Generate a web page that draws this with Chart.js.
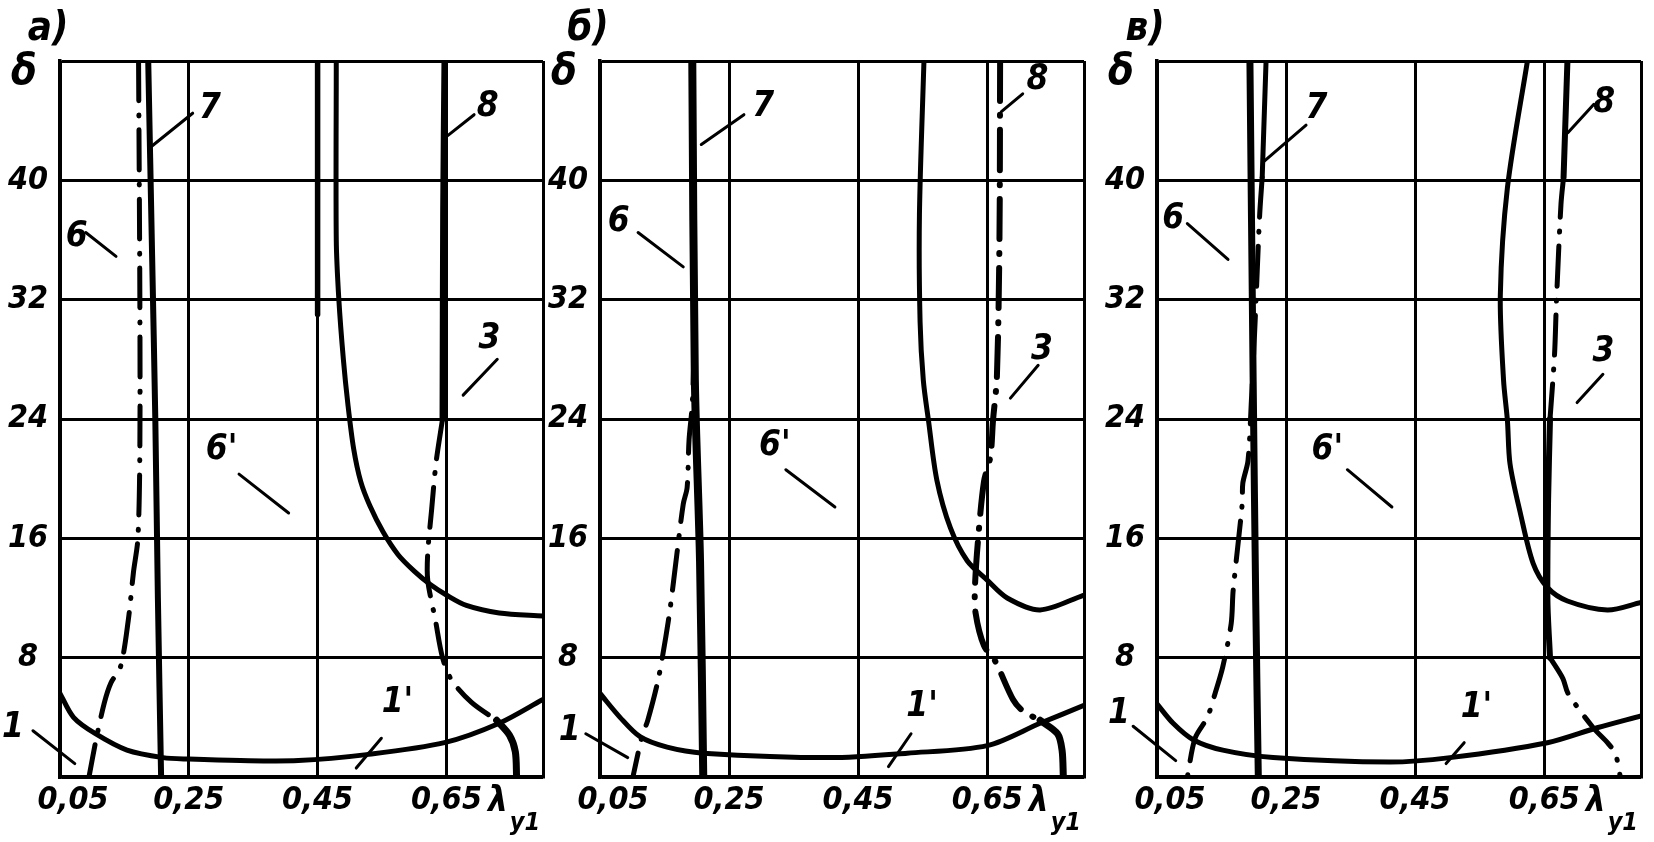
<!DOCTYPE html>
<html>
<head>
<meta charset="utf-8">
<script src="https://cdn.jsdelivr.net/npm/chart.js@4.4.1/dist/chart.umd.min.js"></script>
<style>
    html, body { margin: 0; padding: 0; background: #fff; }
    body { width: 1654px; height: 842px; position: relative; overflow: hidden; }
    canvas { position: absolute; top: 0; }
</style>
</head>
<body>
<canvas id="ca"></canvas>
<canvas id="cb"></canvas>
<canvas id="cc"></canvas>
<script>
// axes
var xTicks = [0.05, 0.25, 0.45, 0.65];
var xLabels = ['0,05', '0,25', '0,45', '0,65'];
var xGrid = [0.05, 0.25, 0.45, 0.65, 0.8];
var yTicks = [0, 8, 16, 24, 32, 40, 48];
var titles = ['а)', 'б)', 'в)'];

// panel а: curves as [lambda, delta]
var a1p = [[0.05, 5.6], [0.071, 4.0], [0.105, 2.9], [0.154, 1.8], [0.21, 1.3], [0.25, 1.2], [0.33, 1.1], [0.42, 1.1], [0.526, 1.5], [0.647, 2.3], [0.732, 3.6], [0.80, 5.2]];
var a3 = [[0.479, 48], [0.479, 36], [0.483, 32], [0.490, 28], [0.497, 25], [0.506, 22], [0.517, 19.8], [0.531, 18.2], [0.552, 16.4], [0.575, 14.9], [0.600, 13.8], [0.625, 12.9], [0.650, 12.2], [0.681, 11.5], [0.732, 11.0], [0.80, 10.8]];
var a6 = [[0.172, 48], [0.174, 32], [0.174, 22], [0.171, 16], [0.164, 13.7], [0.156, 10.5], [0.144, 7.4], [0.129, 6.3], [0.119, 5.0], [0.106, 2.5], [0.095, 0]];
var a7 = [[0.187, 48], [0.193, 35], [0.198, 24], [0.202, 12], [0.207, 0]];
var a8top = [[0.647, 48], [0.645, 38], [0.644, 24]];
var a8 = [[0.644, 24], [0.634, 21.1], [0.627, 17.9], [0.621, 15], [0.621, 13.2], [0.633, 10.5], [0.644, 8], [0.658, 6.5], [0.689, 5], [0.728, 3.8]];
var a8end = [[0.728, 3.8], [0.748, 2.8], [0.757, 1.7], [0.759, 0]];
var a45 = [[0.45, 48], [0.45, 31]];

// panel б
var b1p = [[0.05, 5.6], [0.081, 4.0], [0.112, 2.7], [0.154, 2.0], [0.21, 1.6], [0.407, 1.3], [0.526, 1.6], [0.65, 2.1], [0.732, 3.6], [0.80, 4.8]];
var b3 = [[0.552, 48], [0.545, 37.7], [0.546, 30.5], [0.551, 26.6], [0.559, 23.9], [0.572, 19.9], [0.593, 16.7], [0.619, 14.5], [0.65, 13.2], [0.681, 12.0], [0.732, 11.2], [0.80, 12.2]];
var b6 = [[0.196, 29], [0.193, 25], [0.188, 22.6], [0.185, 19.4], [0.179, 18.3], [0.169, 14.9], [0.159, 11.4], [0.152, 9.4], [0.140, 6.5], [0.124, 3.8], [0.115, 2.7], [0.101, 0]];
var b7 = [[0.193, 48], [0.197, 26.6], [0.205, 14.5], [0.210, 0]];
var b8 = [[0.670, 48], [0.669, 36], [0.665, 26.8], [0.659, 23.9], [0.655, 21.5], [0.645, 19.8], [0.636, 16], [0.631, 12.7], [0.632, 11], [0.645, 8.8], [0.662, 7.8], [0.690, 5.2], [0.706, 4.4], [0.732, 3.8]];
var b8end = [[0.732, 3.8], [0.759, 2.9], [0.766, 1.8], [0.768, 0]];

// panel в
var c1p = [[0.05, 4.9], [0.075, 3.6], [0.106, 2.5], [0.152, 1.8], [0.23, 1.3], [0.411, 1.0], [0.504, 1.3], [0.655, 2.3], [0.732, 3.3], [0.80, 4.1]];
var c3 = [[0.624, 48], [0.593, 39.5], [0.582, 32.3], [0.587, 26.6], [0.593, 23.9], [0.597, 21.0], [0.613, 17.7], [0.633, 14.3], [0.655, 12.7], [0.686, 11.8], [0.748, 11.2], [0.80, 11.7]];
var c6 = [[0.213, 40.2], [0.209, 37.6], [0.202, 30.5], [0.196, 25], [0.191, 21.2], [0.183, 19.7], [0.182, 18.3], [0.168, 12.5], [0.165, 10.3], [0.152, 7.4], [0.140, 5.6], [0.128, 4.0], [0.109, 2.6], [0.097, 0]];
var c7 = [[0.194, 48], [0.199, 26.6], [0.203, 11.8], [0.207, 0]];
var c7top = [[0.219, 48], [0.213, 40.2]];
var c8top = [[0.686, 48], [0.680, 40.2]];
var c8 = [[0.680, 40.2], [0.676, 38.4], [0.669, 31.9], [0.666, 28.3], [0.659, 24]];
var c8mid = [[0.659, 24], [0.656, 18.5], [0.655, 11.8], [0.659, 8]];
var c8low = [[0.659, 8], [0.679, 6.6], [0.687, 5.6], [0.726, 3.3], [0.748, 2.3], [0.760, 1.6], [0.768, 0]];

// curve labels: text, x, y, leader from (x1, y1) to (x2, y2)
var aLabels = [
    ['7', 0.283, 44.8, 0.190, 42.2, 0.256, 44.5],
    ['8', 0.714, 44.9, 0.652, 43.0, 0.693, 44.4],
    ['6', 0.076, 36.2, 0.090, 36.5, 0.137, 34.9],
    ['3', 0.717, 29.4, 0.676, 25.6, 0.729, 28.0],
    ["6'", 0.301, 21.9, 0.328, 20.3, 0.405, 17.7],
    ["1'", 0.574, 5.0, 0.510, 0.6, 0.549, 2.6],
    ['1', -0.023, 3.3, 0.008, 3.1, 0.073, 0.9]
];
var bLabels = [
    ['7', 0.303, 44.9, 0.207, 42.4, 0.273, 44.4],
    ['8', 0.728, 46.7, 0.672, 44.6, 0.705, 45.8],
    ['6', 0.079, 37.2, 0.109, 36.5, 0.179, 34.2],
    ['3', 0.735, 28.6, 0.686, 25.4, 0.729, 27.6],
    ["6'", 0.321, 22.2, 0.338, 20.6, 0.414, 18.1],
    ["1'", 0.549, 4.7, 0.497, 0.7, 0.532, 2.9],
    ['1', 0.003, 3.1, 0.028, 2.9, 0.093, 1.3]
];
var cLabels = [
    ['7', 0.297, 44.8, 0.214, 41.2, 0.281, 43.7],
    ['8', 0.743, 45.2, 0.687, 43.2, 0.727, 45.1],
    ['6', 0.075, 37.4, 0.097, 37.1, 0.160, 34.7],
    ['3', 0.742, 28.5, 0.701, 25.1, 0.741, 27.0],
    ["6'", 0.314, 21.9, 0.345, 20.6, 0.414, 18.1],
    ["1'", 0.545, 4.6, 0.498, 0.9, 0.526, 2.3],
    ['1', -0.009, 4.2, 0.013, 3.4, 0.079, 1.1]
];

var FONT = '"DejaVu Sans Condensed", "DejaVu Sans", sans-serif';
var LAMBDA_AT = 0.73;
var DASHDOT = { borderDash: [40, 14, 1, 14] };

function line(pts, extra) {
    return Object.assign({
        data: pts.map(function (p) { return { x: p[0], y: p[1] }; }),
        showLine: true,
        pointRadius: 0,
        borderColor: '#000',
        borderWidth: 5,
        tension: 0.3,
        fill: false,
        borderCapStyle: 'round',
        borderJoinStyle: 'round'
    }, extra || {});
}

var sketchText = {
    id: 'sketchText',
    afterDraw: function (chart, args, o) {
        var ctx = chart.ctx, sx = chart.scales.x, sy = chart.scales.y, a = chart.chartArea;
        var px = function (v) { return sx.getPixelForValue(v); };
        var py = function (v) { return sy.getPixelForValue(v); };
        ctx.save();
        ctx.fillStyle = '#000';
        ctx.strokeStyle = '#000';
        ctx.lineCap = 'round';
        ctx.textAlign = 'center';
        ctx.textBaseline = 'middle';

        ctx.font = 'italic bold 32px ' + FONT;
        xTicks.forEach(function (v, i) {
            ctx.fillText(xLabels[i], px(v) + (i === 0 ? 13 : 0), a.bottom + 24);
        });
        ctx.font = 'italic bold 35px ' + FONT;
        ctx.fillText('λ', px(LAMBDA_AT), a.bottom + 25);
        ctx.font = 'italic bold 25px ' + FONT;
        ctx.fillText('y1', px(LAMBDA_AT) + 27, a.bottom + 46);

        ctx.font = 'italic bold 42px ' + FONT;
        ctx.fillText('δ', a.left - 36, a.top + 12);
        ctx.font = 'italic bold 40px ' + FONT;
        ctx.fillText(o.title, a.left - 12, 30);

        ctx.lineWidth = 3;
        ctx.font = 'italic bold 35px ' + FONT;
        o.labels.forEach(function (l) {
            ctx.fillText(l[0], px(l[1]), py(l[2]));
            ctx.beginPath();
            ctx.moveTo(px(l[3]), py(l[4]));
            ctx.lineTo(px(l[5]), py(l[6]));
            ctx.stroke();
        });
        ctx.restore();
    }
};

function makePanel(id, plotLeft, plotRight, title, labels, datasets) {
    var canvas = document.getElementById(id);
    var padRight = 12;
    canvas.width = plotRight - plotLeft + 60 + padRight;
    canvas.height = 842;
    canvas.style.left = (plotLeft - 60) + 'px';

    var gridLine = { color: '#000', lineWidth: 3, drawTicks: false };
    var borderLine = { display: true, color: '#000', width: 3.5 };

    new Chart(canvas, {
        type: 'scatter',
        data: { datasets: datasets },
        plugins: [sketchText],
        options: {
            responsive: false,
            animation: false,
            devicePixelRatio: 1,
            events: [],
            layout: { padding: { top: 61, right: padRight, bottom: 0, left: 0 } },
            scales: {
                x: {
                    type: 'linear',
                    min: 0.05,
                    max: 0.8,
                    afterBuildTicks: function (s) { s.ticks = xGrid.map(function (v) { return { value: v }; }); },
                    afterFit: function (s) { s.height = 65; },
                    grid: gridLine,
                    border: borderLine,
                    ticks: { display: false }
                },
                y: {
                    type: 'linear',
                    min: 0,
                    max: 48,
                    afterBuildTicks: function (s) { s.ticks = yTicks.map(function (v) { return { value: v }; }); },
                    afterFit: function (s) { s.width = 60; },
                    grid: gridLine,
                    border: borderLine,
                    ticks: {
                        color: '#000',
                        padding: 12,
                        crossAlign: 'center',
                        font: { family: FONT, size: 32, style: 'italic', weight: 'bold' },
                        callback: function (v) { return (v === 0 || v === 48) ? '' : String(v); }
                    }
                }
            },
            plugins: {
                legend: { display: false },
                tooltip: { enabled: false },
                sketchText: { title: title, labels: labels }
            }
        }
    });
}

makePanel('ca', 60, 543, titles[0], aLabels, [
    line(a1p), line(a3),
    line(a6, DASHDOT),
    line(a7, { borderWidth: 6 }),
    line(a8top, { borderWidth: 6 }),
    line(a8, DASHDOT),
    line(a8end, { borderWidth: 7 }),
    line(a45, { borderWidth: 5.5 })
]);

makePanel('cb', 600, 1084, titles[1], bLabels, [
    line(b1p), line(b3),
    line(b6, DASHDOT),
    line(b7, { borderWidth: 8 }),
    line(b8, Object.assign({ borderWidth: 6 }, DASHDOT)),
    line(b8end, { borderWidth: 7 })
]);

makePanel('cc', 1157, 1641, titles[2], cLabels, [
    line(c1p), line(c3),
    line(c6, DASHDOT),
    line(c7, { borderWidth: 7 }),
    line(c7top, { borderWidth: 5 }),
    line(c8top, { borderWidth: 6 }),
    line(c8, DASHDOT),
    line(c8mid, { borderWidth: 6 }),
    line(c8low, DASHDOT)
]);
</script>
</body>
</html>
